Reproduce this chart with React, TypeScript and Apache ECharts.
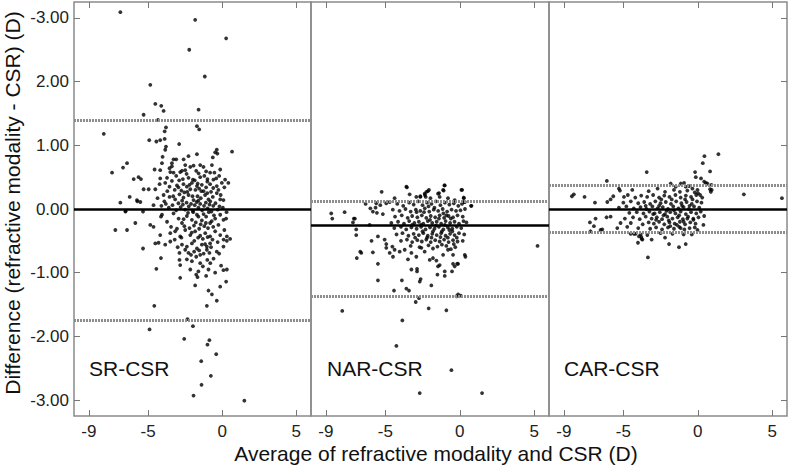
import React, { useEffect, useRef } from "react";
import * as echarts from "echarts";

const panelNames = ["SR-CSR", "NAR-CSR", "CAR-CSR"];
const xTicks = [-9, -5, 0, 5];
const yTicks = [-3, -2, -1, 0, 1, 2, 3];
const meanDiff = [0, -0.25, 0];
const upperLoA = [1.39, 0.12, 0.38];
const lowerLoA = [-1.74, -1.37, -0.37];

const srPoints = [
  [-6.87,3.09],[-1.82,2.97],[0.27,2.68],[-2.22,2.5],[-1.17,2.08],[-4.85,1.95],[-4.51,1.65],[-4.11,1.62],[-3.95,1.54],[-5.3,1.48],[-1.59,1.56],[-4.33,1.4],[-1.7,1.3],[-1.55,1.25],[-3.79,1.28],[-3.88,1.22],[-7.99,1.18],[-4.92,1.08],[-4.44,1.06],[-4.18,1.08],[-3.88,1.1],[-2.9,1.02],[-3.79,0.98],[-3.84,0.93],[-0.36,0.93],[-0.47,0.89],[-0.32,0.87],[0.67,0.9],[-1.7,0.86],[-2.27,0.83],[-4.02,0.82],[-2.6,0.78],[-3.28,0.78],[-3.1,0.78],[-0.63,0.81],[-4.06,0.72],[-3.39,0.72],[-6.42,0.72],[-6.69,0.65],[-7.43,0.57],[-3.39,0.67],[-3.55,0.64],[-2.49,0.69],[-2.15,0.66],[-1.93,0.68],[-1.48,0.69],[-1.26,0.66],[-0.69,0.69],[-0.13,0.62],[-4.56,0.62],[-4.18,0.61],
  [-3.5,0.58],[-3.28,0.57],[-2.83,0.58],[-2.71,0.6],[-2.49,0.61],[-1.75,0.6],[-1.59,0.56],[-1.08,0.59],[-0.81,0.57],[-0.52,0.57],
  [-5.97,0.47],[-5.64,0.5],[-5.48,0.47],
  [-4.18,0.48],[-3.72,0.49],[-3.1,0.52],[-2.65,0.47],[-2.27,0.49],[-1.97,0.46],[-1.48,0.5],[-0.99,0.47],[-0.59,0.46],[0.2,0.46],[0.42,0.41],
  [-4.22,0.39],[-3.84,0.41],[-3.39,0.44],[-3.05,0.37],[-2.61,0.39],[-2.38,0.35],[-2.04,0.41],[-1.7,0.36],[-1.37,0.38],[-1.08,0.34],[-0.81,0.39],[-0.36,0.36],[-0.02,0.41],[0.15,0.34],
  [-5.3,0.31],[-4.96,0.31],[-4.51,0.31],
  [-6.24,0.19],[-5.75,0.14],[-5.52,0.11],[-4.36,0.17],[-3.95,0.22],[-3.55,0.19],[-3.17,0.15],[-2.88,0.23],[-2.61,0.18],[-2.27,0.22],[-1.93,0.14],[-1.66,0.2],[-1.44,0.17],[-1.15,0.22],[-0.92,0.15],[-0.63,0.19],[-0.36,0.25],[-0.13,0.15],[0.09,0.14],
  [-6.87,0.1],[-5.72,0.12],[-6.51,-0.03],[-5.34,-0.04],[-4.63,0.06],
  [-4.1,0.05],[-3.8,0.08],[-3.6,0.02],[-3.35,0.06],[-3.1,-0.02],[-2.95,0.09],[-2.8,0.03],[-2.65,0.07],[-2.5,-0.01],[-2.4,0.1],[-2.25,0.04],[-2.1,0.08],[-1.98,-0.03],[-1.85,0.06],[-1.72,0.11],[-1.6,0.02],[-1.48,0.08],[-1.35,-0.02],[-1.22,0.05],[-1.1,0.1],[-0.98,0.01],[-0.85,0.07],[-0.72,-0.04],[-0.6,0.05],[-0.45,0.09],[-0.3,-0.01],[-0.18,0.04],[0.05,0.02],[0.3,-0.05],
  [-3.7,0.28],[-3.2,0.3],[-2.75,0.29],[-2.35,0.27],[-1.8,0.3],[-1.25,0.28],[-0.75,0.27],[-0.25,0.3],[-2.95,0.34],[-1.55,0.32],[-1.0,0.25],[-2.15,0.31],
  [-6.53,-0.04],[-5.86,-0.22],[-6.42,-0.33],[-7.21,-0.33],[-4.85,-0.25],[-4.63,-0.28],
  [-4.06,-0.09],[-3.72,-0.2],[-4.13,-0.12],
  [-3.28,-0.07],[-2.94,-0.15],[-2.71,-0.22],[-2.38,-0.11],[-2.04,-0.17],[-1.7,-0.09],[-1.37,-0.18],[-1.08,-0.12],[-0.81,-0.22],[-0.47,-0.15],[-0.13,-0.09],[0.09,-0.17],[0.27,-0.15],
  [-3.45,-0.28],[-3.05,-0.31],[-2.55,-0.27],[-2.2,-0.3],[-1.9,-0.26],[-1.55,-0.31],[-1.2,-0.27],[-0.95,-0.3],[-0.6,-0.28],[-0.25,-0.25],
  [-4.18,-0.41],[-3.5,-0.38],[-3.17,-0.35],[-2.83,-0.43],[-2.49,-0.33],[-2.15,-0.41],[-1.82,-0.35],[-1.48,-0.42],[-1.14,-0.38],[-0.81,-0.43],[-0.47,-0.35],[-0.13,-0.41],[0.32,-0.43],[0.54,-0.47],
  [-4.51,-0.54],[-4.29,-0.53],[-3.84,-0.56],[-3.5,-0.51],[-2.71,-0.56],[-2.38,-0.59],[-2.04,-0.54],[-1.7,-0.62],[-1.37,-0.56],[-1.03,-0.59],[-0.81,-0.54],[-0.36,-0.67],[0.09,-0.59],[0.32,-0.5],
  [-5.34,-0.62],
  [-2.88,-0.69],[-2.49,-0.64],[-2.27,-0.69],[-1.89,-0.67],[-1.48,-0.72],[-1.03,-0.64],[-0.86,-0.69],
  [-4.13,-0.77],[-2.88,-0.8],[-2.38,-0.79],[-2.04,-0.82],[-1.48,-0.85],[-2.83,-0.88],
  [-4.44,-0.94],[-2.15,-0.95],[-0.92,-0.95],[-0.47,-1.0],[-0.07,-0.89],[0.09,-0.96],[0.32,-0.95],
  [-2.83,-1.08],[-1.75,-1.03],[-1.66,-1.07],[-1.08,-1.05],
  [0.27,-1.14],[-0.13,-1.22],[-1.82,-1.2],[-0.92,-1.28],[-0.69,-1.34],[-0.36,-1.44],[-1.03,-1.52],[-4.58,-1.52],
  [-4.9,-1.89],[-2.34,-1.73],[-1.97,-1.84],[-2.56,-2.04],[-0.86,-2.06],[-0.99,-2.13],[-0.4,-2.28],[-1.41,-2.39],[-0.76,-2.62],[-1.39,-2.76],[-1.93,-2.93],[1.5,-3.01],
  [-1.95,-0.05],[-1.6,-0.12],[-1.25,-0.08],[-0.9,-0.05],[-0.55,-0.1],[-2.3,-0.06],[-2.6,-0.16],[-1.1,-0.22],[-1.45,-0.24],[-0.7,-0.19],[-1.78,-0.21],[-2.05,-0.37],[-1.62,-0.45],[-1.3,-0.47],[-0.98,-0.44],[-0.65,-0.48],[-1.88,-0.5],[-1.15,-0.55],[-0.75,-0.6],[-1.55,-0.65],[-1.25,-0.7],[-0.58,-0.78],[-1.0,-0.8],[-1.75,-0.75],[-0.3,-0.52],[-0.2,-0.7],[0.15,-0.33],[0.1,-0.48],[-2.75,-0.45],[-3.2,-0.48],[-3.0,-0.6],[-2.1,-0.72],[-1.3,-0.9],[-0.8,-0.85],[-1.6,-0.98],
  [-1.85,0.45],[-1.2,0.52],[-0.4,0.48],[-2.4,0.55],[-2.9,0.45],[-1.0,0.43],[-0.2,0.52],[-1.65,0.4],[-2.2,0.38],[-3.55,0.35],[-0.6,0.33],[-1.4,0.28],[-2.55,0.26],[-0.1,0.22],[-3.3,0.2],[-2.0,0.2],[-0.8,0.12],[-1.6,0.13],[-2.7,0.13],[-3.9,0.12]
];

const narPoints = [
  [-3.55,0.34],[-5.25,0.27],[-1.03,0.37],[0.16,0.3],[-2.24,0.27],[-2.07,0.3],[-1.39,0.25],[-1.08,0.29],[-2.92,0.19],[-2.65,0.19],[-2.34,0.22],[0.76,0.05],[0.27,0.17],[0.27,0.11],
  [-8.64,-0.07],[-7.74,-0.05],[-8.57,-0.15],[-7.05,-0.15],[-7.18,-0.21],
  [-6.33,0.08],[-6.01,0.01],[-5.84,-0.04],[-5.61,0.09],[-6.96,-0.32],[-6.96,-0.41],[-6.06,-0.25],
  [-5.66,0.02],[-5.34,0.06],[-5.57,-0.06],[-5.17,-0.08],
  [-7.12,-0.15],[-5.93,-0.5],[-5.5,-0.43],[-5.05,-0.48],[-4.94,-0.55],[-4.53,-0.59],
  [-4.38,0.17],[-4.94,0.09],[-4.71,0.11],
  [-3.59,0.35],[-3.37,0.23],[-2.65,0.2],[-2.36,0.24],[-2.14,0.28],[-2.29,0.19],[-1.97,0.17],[-1.46,0.24],[-1.35,0.19],[-1.01,0.37],[-1.12,0.3],[-0.79,0.17],[-0.34,0.14],[0.11,0.3],[0.27,0.18],[0.34,0.11],[0.79,0.05],
  [0.45,-0.21],
  [-4.2,0.08],[-3.8,0.05],[-3.4,0.1],[-3.1,0.07],[-2.8,0.12],[-2.5,0.06],[-2.2,0.1],[-1.9,0.08],[-1.6,0.12],[-1.3,0.06],[-1.0,0.1],[-0.7,0.07],[-0.4,0.09],[-0.1,0.05],[0.15,0.08],
  [-4.5,-0.01],[-4.05,-0.03],[-3.65,0.0],[-3.3,-0.04],[-2.95,-0.01],[-2.65,-0.03],[-2.35,0.01],[-2.05,-0.04],[-1.75,-0.01],[-1.45,-0.03],[-1.15,0.0],[-0.85,-0.04],[-0.55,-0.01],[-0.25,-0.03],[0.05,-0.02],[0.35,0.0],
  [-4.35,-0.12],[-3.9,-0.1],[-3.5,-0.14],[-3.2,-0.11],[-2.85,-0.13],[-2.55,-0.1],[-2.25,-0.14],[-1.95,-0.11],[-1.65,-0.13],[-1.35,-0.1],[-1.05,-0.14],[-0.75,-0.11],[-0.45,-0.13],[-0.15,-0.1],[0.2,-0.12],
  [-4.6,-0.22],[-4.15,-0.2],[-3.75,-0.23],[-3.4,-0.19],[-3.05,-0.22],[-2.75,-0.2],[-2.45,-0.23],[-2.15,-0.19],[-1.85,-0.22],[-1.55,-0.2],[-1.25,-0.23],[-0.95,-0.19],[-0.65,-0.22],[-0.35,-0.2],[-0.05,-0.23],[0.25,-0.19],
  [-4.4,-0.3],[-3.95,-0.28],[-3.6,-0.32],[-3.25,-0.29],[-2.9,-0.31],[-2.6,-0.28],[-2.3,-0.32],[-2.0,-0.29],[-1.7,-0.31],[-1.4,-0.28],[-1.1,-0.32],[-0.8,-0.29],[-0.5,-0.31],[-0.2,-0.28],[0.1,-0.3],
  [-4.25,-0.4],[-3.85,-0.38],[-3.45,-0.42],[-3.1,-0.39],[-2.75,-0.41],[-2.45,-0.38],[-2.15,-0.42],[-1.85,-0.39],[-1.55,-0.41],[-1.25,-0.38],[-0.95,-0.42],[-0.65,-0.39],[-0.35,-0.41],[-0.05,-0.38],[0.3,-0.4],
  [-3.95,-0.5],[-3.55,-0.48],[-3.2,-0.52],[-2.85,-0.49],[-2.55,-0.51],[-2.25,-0.48],[-1.95,-0.52],[-1.65,-0.49],[-1.35,-0.51],[-1.05,-0.48],[-0.75,-0.52],[-0.45,-0.49],[-0.15,-0.51],[0.2,-0.5],
  [-3.3,-0.58],[-2.7,-0.6],[-2.1,-0.57],[-1.5,-0.59],[-0.9,-0.58],[-0.3,-0.6],[-1.8,-0.62],[-1.2,-0.56],[-0.6,-0.63],
  [-2.4,-0.05],[-2.0,-0.17],[-1.6,-0.26],[-1.2,-0.35],[-0.8,-0.45],[-1.4,-0.15],[-1.8,-0.35],[-2.2,-0.45],[-0.6,-0.15],[-1.0,-0.25],[-2.6,-0.25],[-3.0,-0.45],[-0.4,-0.55],[-1.7,0.02],[-1.1,-0.07],[-0.5,-0.35],[-2.9,-0.05],[-3.2,-0.25],[-2.1,0.04],[-1.3,-0.44],[-0.9,-0.1],[-1.9,-0.45],[-0.2,-0.45],[-0.7,-0.33],[-2.5,-0.35],
  [-6.92,-0.77],[-6.62,-0.69],[-6.69,-0.67],[-5.84,-0.68],[-5.5,-0.86],[-5.5,-1.12],
  [-4.94,-0.61],[-4.71,-0.69],[-4.49,-0.75],[-4.38,-0.64],[-4.04,-0.67],[-3.7,-0.64],[-3.48,-0.79],[-3.25,-0.69],[-2.92,-0.75],[-2.58,-0.61],
  [-2.36,-0.67],[-2.02,-0.8],[-1.8,-0.77],[-1.57,-0.81],[-1.46,-0.9],[-1.35,-0.88],[-1.12,-0.72],[-0.79,-0.64],[-0.45,-0.72],[-0.34,-0.9],[-0.11,-0.86],[-1.01,-0.98],[-1.5,-1.03],[-1.01,-1.05],
  [0.34,-0.72],[0.38,-0.75],
  [-3.25,-0.95],[-2.87,-0.94],[-2.87,-0.98],
  [-3.89,-1.12],[-2.63,-1.1],[-2.69,-1.14],
  [-4.42,-1.28],[-3.59,-1.25],[-3.41,-1.28],
  [-1.91,-1.2],[-2.74,-1.4],[-2.96,-1.46],[-2.09,-1.56],
  [-0.22,-1.37],[-0.11,-1.34],[0.07,-1.36],
  [-7.9,-1.6],[-0.9,-1.59],[-3.86,-1.75],[-4.26,-2.15],[-0.56,-2.53],[-2.69,-2.89],[1.5,-2.89],[5.23,-0.58],
  [-0.45,-0.86],[-0.18,-0.86],[-0.52,-0.98]
];

const carPoints = [
  [1.39,0.86],[0.45,0.83],[0.34,0.72],[-3.43,0.58],[0.83,0.59],[-0.18,0.58],[-0.13,0.5],[-6.11,0.44],[0.22,0.48],[0.43,0.43],[0.54,0.41],[0.65,0.4],[0.92,0.38],[0.83,0.31],[0.94,0.3],[0.88,0.27],
  [-8.46,0.2],[-8.33,0.23],[-7.61,0.19],[3.1,0.23],[5.66,0.17],[-6.91,0.1],[-5.3,0.32],[-5.23,0.29],
  [-7.25,-0.21],[-6.87,-0.15],[-6.53,-0.33],[-7.21,-0.35],[-5.41,-0.3],[-3.79,-0.44],
  [-6.08,0.11],[-5.86,0.15],[-5.68,0.2],[-4.96,0.19],
  [-1.82,0.4],[-1.48,0.35],[-1.14,0.4],[-0.92,0.41],[-0.81,0.35],[-0.58,0.36],[-0.36,0.32],[-0.02,0.3],[0.02,0.25],[0.16,0.22],
  [-6.98,-0.27],[-6.42,-0.32],[-6.13,-0.13],[-5.86,-0.12],[-5.19,-0.22],[-4.74,-0.28],[-4.29,-0.39],[-3.95,-0.43],[-3.72,-0.48],[-4.02,-0.53],
  [-1.93,-0.55],[-1.26,-0.6],[-0.81,-0.55],[-3.77,-0.47],[-3.35,-0.76],
  [0.43,-0.11],[0.38,-0.25],[-0.02,-0.33],[-0.29,-0.17],
  [-4.51,-0.39],[-4.18,-0.39],[-3.84,-0.4],[-3.39,-0.41],
  [-4.4,0.3],[-3.3,0.28],[-2.7,0.32],[-2.2,0.27],[-1.6,0.3],[-1.2,0.27],[-0.7,0.29],[-0.2,0.26],
  [-4.7,0.22],[-4.2,0.18],[-3.8,0.21],[-3.4,0.19],[-3.0,0.22],[-2.6,0.18],[-2.25,0.21],[-1.9,0.19],[-1.5,0.22],[-1.15,0.18],[-0.8,0.21],[-0.45,0.19],[-0.1,0.22],[0.3,0.18],
  [-5.0,0.1],[-4.5,0.12],[-4.0,0.09],[-3.6,0.11],[-3.2,0.08],[-2.85,0.12],[-2.5,0.09],[-2.15,0.11],[-1.8,0.08],[-1.45,0.12],[-1.1,0.09],[-0.75,0.11],[-0.4,0.08],[-0.05,0.12],[0.25,0.1],
  [-5.3,0.02],[-4.8,0.04],[-4.3,0.01],[-3.85,0.03],[-3.45,0.0],[-3.05,0.04],[-2.7,0.01],[-2.35,0.03],[-2.0,0.0],[-1.65,0.04],[-1.3,0.01],[-0.95,0.03],[-0.6,0.0],[-0.25,0.04],[0.1,0.02],
  [-4.6,-0.06],[-4.1,-0.05],[-3.65,-0.07],[-3.25,-0.04],[-2.9,-0.07],[-2.55,-0.05],[-2.2,-0.08],[-1.85,-0.05],[-1.5,-0.07],[-1.15,-0.04],[-0.8,-0.08],[-0.45,-0.05],[-0.1,-0.07],[0.2,-0.04],
  [-4.9,-0.15],[-4.35,-0.13],[-3.9,-0.16],[-3.5,-0.12],[-3.1,-0.15],[-2.75,-0.13],[-2.4,-0.16],[-2.05,-0.12],[-1.7,-0.15],[-1.35,-0.13],[-1.0,-0.16],[-0.65,-0.12],[-0.3,-0.15],[0.05,-0.13],
  [-4.5,-0.22],[-3.7,-0.24],[-3.3,-0.21],[-2.95,-0.23],[-2.6,-0.2],[-2.25,-0.24],[-1.9,-0.21],[-1.55,-0.23],[-1.2,-0.2],[-0.85,-0.24],[-0.5,-0.21],[-0.15,-0.23],
  [-4.0,-0.3],[-3.2,-0.31],[-2.8,-0.29],[-2.4,-0.32],[-2.0,-0.29],[-1.6,-0.31],[-1.25,-0.28],[-0.9,-0.32],[-0.55,-0.3],[-0.2,-0.29],
  [-2.3,-0.1],[-1.95,-0.18],[-1.6,-0.02],[-1.25,-0.1],[-0.95,-0.2],[-2.6,0.05],[-1.75,0.15],[-1.05,0.05],[-0.7,-0.15],[-2.1,-0.03],[-2.8,-0.17],[-1.4,-0.25],[-0.35,0.15],[-0.55,0.05],[-3.0,-0.08],[-2.45,0.15],[-1.15,-0.3],[-0.85,0.15],[-1.85,-0.27],[-3.5,0.05],
  [-2.5,-0.38],[-1.7,-0.39],[-0.95,-0.4],[-2.2,-0.45],[-0.4,-0.4],[-3.1,-0.48]
];

const panelData = [srPoints, narPoints, carPoints];

const FONT = "'Liberation Sans', Arial, Helvetica, sans-serif";

export default function App() {
  const ref = useRef<HTMLDivElement>(null);

  useEffect(() => {
    if (!ref.current) return;
    const chart = echarts.init(ref.current, null, { renderer: "svg" });

    const gridLefts = [74, 311, 549];
    const gridWidths = [237, 238, 238];
    const grids = gridLefts.map((l, i) => ({
      left: l,
      top: 2,
      width: gridWidths[i],
      height: 414,
      show: true,
      borderColor: "#8a8a8a",
      borderWidth: 1.5,
      backgroundColor: "transparent",
    }));

    const tickStyle = { color: "#777", width: 1 };
    const xAxes: any[] = [];
    const yAxes: any[] = [];
    for (let i = 0; i < 3; i++) {
      xAxes.push({
        gridIndex: i,
        type: "value",
        position: "bottom",
        min: -10,
        max: 6,
        axisLine: { show: false, onZero: false },
        splitLine: { show: false },
        axisTick: { show: true, inside: true, length: 6, customValues: xTicks, lineStyle: tickStyle },
        axisLabel: { customValues: xTicks, fontSize: 17, color: "#222", fontFamily: FONT, margin: 7 },
      });
      xAxes.push({
        gridIndex: i,
        type: "value",
        position: "top",
        min: -10,
        max: 6,
        axisLine: { show: false, onZero: false },
        splitLine: { show: false },
        axisTick: { show: true, inside: true, length: 6, customValues: xTicks, lineStyle: tickStyle },
        axisLabel: { show: false },
      });
      yAxes.push({
        gridIndex: i,
        type: "value",
        position: "left",
        min: -3.25,
        max: 3.25,
        axisLine: { show: false, onZero: false },
        splitLine: { show: false },
        axisTick: i === 0
          ? { show: true, inside: true, length: 6, customValues: yTicks, lineStyle: tickStyle }
          : { show: false },
        axisLabel: i === 0
          ? {
              customValues: yTicks,
              fontSize: 17,
              color: "#222",
              fontFamily: FONT,
              margin: 5,
              formatter: (v: number) => (v === 3 ? "-3.00" : v.toFixed(2)),
            }
          : { show: false },
      });
    }
    yAxes.push({
      gridIndex: 2,
      type: "value",
      position: "right",
      min: -3.25,
      max: 3.25,
      axisLine: { show: false, onZero: false },
      splitLine: { show: false },
      axisTick: { show: true, inside: true, length: 6, customValues: yTicks, lineStyle: tickStyle },
      axisLabel: { show: false },
    });

    const series = panelData.map((pts, i) => ({
      type: "scatter",
      xAxisIndex: i * 2,
      yAxisIndex: i,
      data: pts,
      symbol: "circle",
      symbolSize: 3.8,
      itemStyle: { color: "#000" },
      silent: true,
      markLine: {
        silent: true,
        symbol: ["none", "none"],
        label: { show: false },
        data: [
          { yAxis: upperLoA[i], lineStyle: { color: "#8d8d8d", width: 3, type: [2, 1] } },
          { yAxis: lowerLoA[i], lineStyle: { color: "#8d8d8d", width: 3, type: [2, 1] } },
          { yAxis: meanDiff[i], lineStyle: { color: "#000", width: 2.5, type: "solid" } },
        ],
      },
    }));

    const labelX = [89, 327, 564];
    const graphics: any[] = panelNames.map((name, i) => ({
      type: "text",
      left: labelX[i],
      top: 358,
      style: { text: name, fontSize: 21, fontFamily: FONT, fill: "#111" },
    }));
    graphics.push({
      type: "text",
      x: 12,
      y: 203,
      rotation: Math.PI / 2,
      style: {
        text: "Difference (refractive modality - CSR) (D)",
        fontSize: 21,
        fontFamily: FONT,
        fill: "#111",
        align: "center",
        verticalAlign: "middle",
      },
    });
    graphics.push({
      type: "text",
      x: 436,
      y: 453,
      style: {
        text: "Average of refractive modality and CSR (D)",
        fontSize: 21,
        fontFamily: FONT,
        fill: "#111",
        align: "center",
        verticalAlign: "middle",
      },
    });

    chart.setOption({
      animation: false,
      backgroundColor: "#fff",
      grid: grids,
      xAxis: xAxes,
      yAxis: yAxes,
      series,
      graphic: graphics,
    });

    return () => chart.dispose();
  }, []);

  return <div ref={ref} style={{ width: 788, height: 467, position: "absolute", left: 0, top: 0 }} />;
}
